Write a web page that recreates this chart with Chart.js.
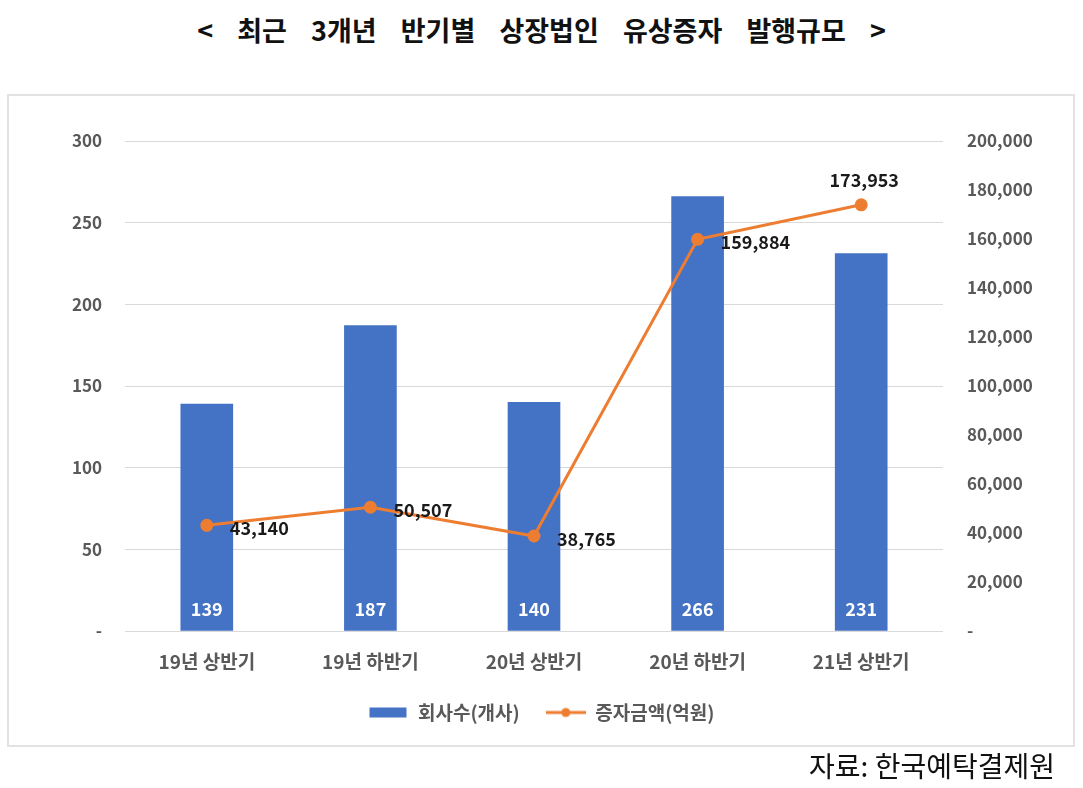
<!DOCTYPE html>
<html>
<head>
<meta charset="utf-8">
<script src="https://cdn.jsdelivr.net/npm/chart.js@4/dist/chart.umd.min.js"></script>
<style>
  html, body { margin: 0; padding: 0; background: #fff; }
  body { width: 1083px; height: 788px; position: relative; overflow: hidden; font-family: "Noto Sans CJK KR", "Noto Sans", sans-serif; }
  #title { position: absolute; left: 0; top: 10px; width: 1083px; text-align: center; font-size: 27px; font-weight: bold; color: #111; word-spacing: 18px; line-height: 40px; }
  #box { position: absolute; left: 7px; top: 94px; width: 1064px; height: 649px; border: 2px solid #e2e2e2; }
  #wrap { position: absolute; left: 0; top: 0; width: 1083px; height: 788px; }
  #source { position: absolute; right: 28px; top: 745px; font-size: 28px; color: #111; line-height: 40px; }
</style>
</head>
<body>
<div id="title">&lt; 최근 3개년 반기별 상장법인 유상증자 발행규모 &gt;</div>
<div id="box"></div>
<div id="wrap"><canvas id="c" width="1083" height="788"></canvas></div>
<div id="source">자료: 한국예탁결제원</div>
<script>
const categories = ['19년 상반기', '19년 하반기', '20년 상반기', '20년 하반기', '21년 상반기'];
const companyCounts = [139, 187, 140, 266, 231];
const issueAmounts = [43140, 50507, 38765, 159884, 173953];
const seriesNames = ['회사수(개사)', '증자금액(억원)'];
const leftTicks = { min: 0, max: 300, step: 50 };
const rightTicks = { min: 0, max: 200000, step: 20000 };

const BLUE = '#4472C4';
const ORANGE = '#ED7D31';
const GREY = '#595959';
const FONT = '"Noto Sans CJK KR", "Noto Sans", sans-serif';

function fmt(v) { return v === 0 ? '-' : v.toLocaleString('en-US'); }

function makeSwatch(kind) {
  const cv = document.createElement('canvas');
  cv.width = 40; cv.height = 12;
  const g = cv.getContext('2d');
  if (kind === 'bar') {
    g.fillStyle = BLUE; g.fillRect(1, 1, 37, 10);
  } else {
    g.strokeStyle = ORANGE; g.lineWidth = 3;
    g.beginPath(); g.moveTo(0, 6); g.lineTo(40, 6); g.stroke();
    g.fillStyle = ORANGE; g.beginPath(); g.arc(20, 6, 4.5, 0, Math.PI * 2); g.fill();
  }
  return cv;
}
const swatches = [makeSwatch('bar'), makeSwatch('line')];

const labelPlugin = {
  id: 'valueLabels',
  afterDatasetsDraw(chart) {
    const ctx = chart.ctx;
    ctx.save();
    ctx.font = 'bold 18px ' + FONT;
    const barMeta = chart.getDatasetMeta(0);
    ctx.fillStyle = '#ffffff';
    ctx.textAlign = 'center';
    ctx.textBaseline = 'middle';
    barMeta.data.forEach((el, i) => {
      ctx.fillText(String(companyCounts[i]), el.x, el.base - 21);
    });
    const lineMeta = chart.getDatasetMeta(1);
    ctx.fillStyle = '#1a1a1a';
    lineMeta.data.forEach((el, i) => {
      const txt = fmt(issueAmounts[i]);
      if (i === issueAmounts.length - 1) {
        ctx.textAlign = 'center';
        ctx.fillText(txt, el.x + 3, el.y - 25);
      } else {
        ctx.textAlign = 'left';
        ctx.fillText(txt, el.x + 23, el.y + 3);
      }
    });
    ctx.restore();
  }
};

new Chart(document.getElementById('c'), {
  data: {
    labels: categories,
    datasets: [
      {
        type: 'bar',
        label: seriesNames[0],
        data: companyCounts,
        backgroundColor: BLUE,
        yAxisID: 'y',
        barThickness: 52,
        order: 2
      },
      {
        type: 'line',
        label: seriesNames[1],
        data: issueAmounts,
        borderColor: ORANGE,
        backgroundColor: ORANGE,
        borderWidth: 3,
        pointRadius: 5,
        pointBackgroundColor: ORANGE,
        pointBorderColor: ORANGE,
        tension: 0,
        yAxisID: 'y1',
        order: 1
      }
    ]
  },
  options: {
    responsive: false,
    animation: false,
    layout: { padding: { top: 141, bottom: 56, left: 0, right: 0 } },
    plugins: {
      tooltip: { enabled: false },
      legend: {
        position: 'bottom',
        labels: {
          usePointStyle: true,
          pointStyleWidth: 40,
          padding: 26,
          color: GREY,
          font: { family: FONT, size: 19, weight: 'bold' },
          generateLabels() {
            return seriesNames.map((n, i) => ({
              text: n,
              pointStyle: swatches[i],
              fillStyle: i === 0 ? BLUE : ORANGE,
              strokeStyle: i === 0 ? BLUE : ORANGE,
              lineWidth: 0,
              fontColor: GREY,
              datasetIndex: i,
              hidden: false
            }));
          }
        }
      }
    },
    scales: {
      x: {
        grid: { display: false, drawTicks: false },
        border: { display: false },
        ticks: { color: GREY, font: { family: FONT, size: 19, weight: 'bold' }, padding: 19, maxRotation: 0 },
        afterFit(s) { s.height = 46; }
      },
      y: {
        position: 'left',
        min: leftTicks.min, max: leftTicks.max,
        grid: { color: '#d9d9d9', drawTicks: false, lineWidth: 1 },
        border: { display: false },
        ticks: { stepSize: leftTicks.step, color: GREY, font: { family: FONT, size: 17, weight: 'bold' }, padding: 23, callback: v => fmt(v) },
        afterFit(s) { s.width = 125; }
      },
      y1: {
        position: 'right',
        min: rightTicks.min, max: rightTicks.max,
        grid: { display: false, drawTicks: false },
        border: { display: false },
        ticks: { stepSize: rightTicks.step, color: GREY, font: { family: FONT, size: 17, weight: 'bold' }, padding: 24, callback: v => fmt(v) },
        afterFit(s) { s.width = 140; }
      }
    }
  },
  plugins: [labelPlugin]
});
</script>
</body>
</html>
